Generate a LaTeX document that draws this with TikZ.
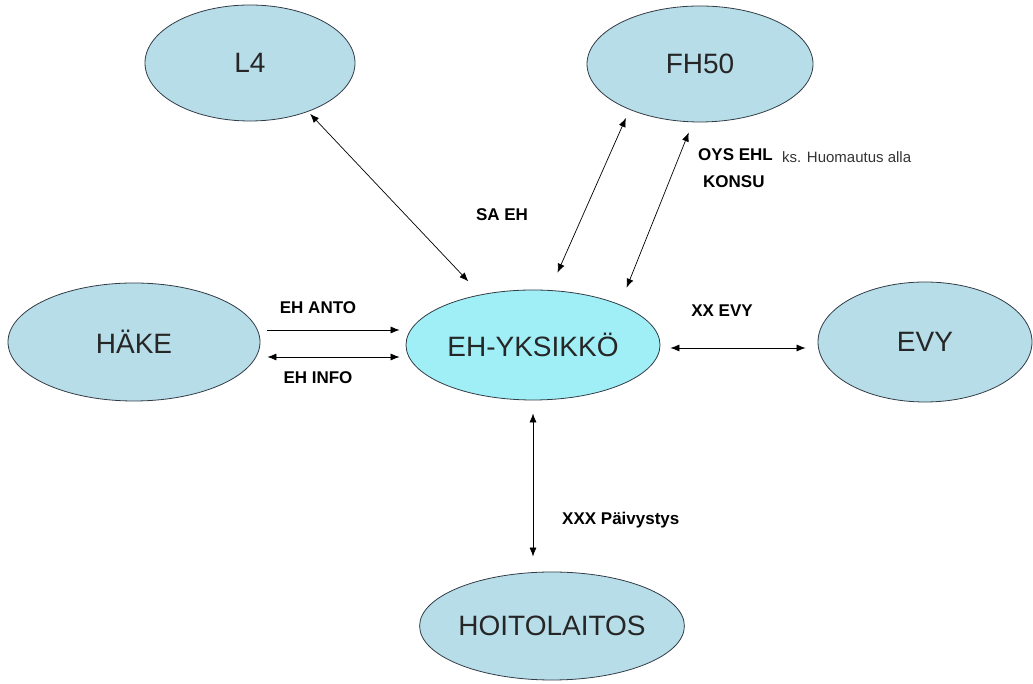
\documentclass[tikz,border=0pt]{standalone}
\usepackage{fontspec}
\setmainfont{Liberation Sans}
\usetikzlibrary{arrows.meta,shapes.geometric,positioning}
\definecolor{bubble}{RGB}{183,221,232}
\definecolor{bubblehi}{RGB}{160,238,246}
\definecolor{rim}{RGB}{50,60,70}

\begin{document}
\begin{tikzpicture}[x=1pt, y=1pt,
  unit/.style={ellipse, draw=rim, fill=bubble, line width=0.8pt, inner sep=0pt,
    font=\fontsize{28}{32}\selectfont, text=black!85},
  flow/.style={font=\fontsize{17}{20}\selectfont\bfseries, inner sep=0pt},
  note/.style={font=\fontsize{15}{18}\selectfont, inner sep=0pt, text=black!80},
  twoway/.style={{Latex[length=9pt,width=7pt]}-{Latex[length=9pt,width=7pt]}, line width=0.7pt},
  oneway/.style={-{Latex[length=9pt,width=7pt]}, line width=0.7pt}]
  \useasboundingbox (0,0) rectangle (1033,684);

  \node[unit, minimum width=210, minimum height=116] (l4) at (250,621) {L4};
  \node[unit, minimum width=226, minimum height=116] (fh50) at (700,620) {FH50};
  \node[unit, minimum width=252, minimum height=118] (hake) at (134,342) {HÄKE};
  \node[unit, fill=bubblehi, minimum width=254, minimum height=110] (eh) at (533,339) {EH-YKSIKKÖ};
  \node[unit, minimum width=214, minimum height=120] (evy) at (925,342) {EVY};
  \node[unit, minimum width=262, minimum height=108] (hoito) at (552,58) {HOITOLAITOS};

  \draw[twoway, shorten <=3pt, shorten >=18pt] (l4.-40) -- (eh.136);
  \draw[twoway, shorten <=9pt, shorten >=19pt] (fh50.213) -- (eh.73);
  \draw[twoway, shorten <=11pt, shorten >=18pt] (fh50.263) -- (eh.25);
  \draw[oneway, shorten <=7pt, shorten >=6pt] ([yshift=12pt]hake.east) -- ([yshift=12pt]hake.east -| eh.west);
  \draw[twoway, shorten <=7pt, shorten >=6pt] ([yshift=-15pt]hake.east) -- ([yshift=-15pt]hake.east -| eh.west);
  \draw[twoway, shorten <=10pt, shorten >=12pt] ([yshift=-3pt]eh.east) -- ([yshift=-3pt]eh.east -| evy.west);
  \draw[twoway, shorten <=13pt, shorten >=15pt] (eh.south) -- (eh.south |- hoito.north);

  \node[flow] (saeh) at (502,469) {SA EH};
  \node[flow, anchor=west] (oys) at (698,529) {OYS EHL};
  \node[note, anchor=west] (huom) at (782,527) {ks. Huomautus alla};
  \node[flow, anchor=west] (konsu) at (703,502) {KONSU};
  \node[flow] (anto) at (318,376) {EH ANTO};
  \node[flow] (info) at (318,306) {EH INFO};
  \node[flow] (xxevy) at (722,373) {XX EVY};
  \node[flow, anchor=west] (paiv) at (562,164) {XXX Päivystys};

\end{tikzpicture}
\end{document}
